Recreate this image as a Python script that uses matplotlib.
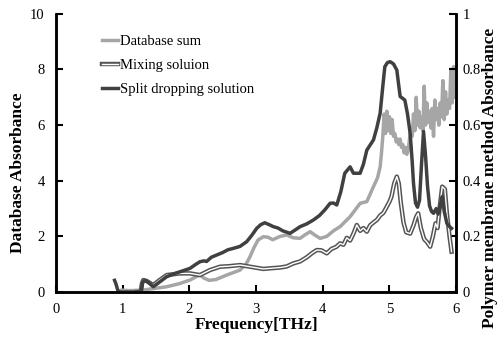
import matplotlib.pyplot as plt
import matplotlib.patheffects as pe

plt.rcParams['font.family'] = ['Liberation Serif', 'DejaVu Serif']

# Database sum (left axis)
db_f = [0.95, 0.98, 1.10, 1.31, 1.45, 1.66, 1.85, 2.01, 2.10, 2.16, 2.22, 2.30,
        2.40, 2.50, 2.56, 2.66, 2.76, 2.85, 2.91, 2.97, 3.03, 3.11, 3.18, 3.25,
        3.36, 3.46, 3.56, 3.66, 3.73, 3.81, 3.88, 3.96, 4.06, 4.16, 4.26, 4.41,
        4.56, 4.66, 4.76, 4.82, 4.86, 4.88, 4.90, 4.92, 4.94, 4.96, 4.98, 5.00,
        5.02, 5.04, 5.06, 5.08, 5.10, 5.12, 5.14, 5.16, 5.18, 5.20, 5.22, 5.24,
        5.26, 5.28, 5.30, 5.32, 5.34, 5.36, 5.38, 5.40, 5.42, 5.44, 5.46, 5.48,
        5.50, 5.52, 5.54, 5.56, 5.58, 5.60, 5.62, 5.64, 5.66, 5.68, 5.70, 5.72,
        5.74, 5.76, 5.78, 5.80, 5.82, 5.84, 5.86, 5.88, 5.90, 5.92, 5.94, 5.96,
        5.98, 6.00]
db_v = [0.00, 0.07, 0.05, 0.07, 0.12, 0.19, 0.30, 0.43, 0.55, 0.61, 0.50, 0.42,
        0.45, 0.55, 0.61, 0.70, 0.79, 1.00, 1.27, 1.60, 1.87, 1.99, 1.97, 1.88,
        2.00, 2.05, 1.95, 1.93, 2.05, 2.17, 2.05, 1.93, 2.00, 2.20, 2.35, 2.71,
        3.19, 3.25, 3.79, 4.10, 4.50, 5.00, 5.60, 6.40, 5.70, 6.50, 5.80, 6.30,
        5.70, 6.20, 5.60, 5.70, 5.40, 5.50, 5.30, 5.50, 5.20, 5.30, 5.00, 5.20,
        4.95, 5.10, 5.50, 5.90, 5.60, 6.40, 5.80, 7.00, 6.00, 6.50, 5.90, 6.30,
        5.80, 7.40, 6.00, 6.80, 6.10, 6.50, 5.90, 6.60, 5.60, 6.90, 6.20, 6.60,
        6.00, 6.80, 6.30, 7.60, 6.20, 7.20, 6.40, 6.90, 6.60, 8.00, 6.80, 8.10,
        7.00, 7.50]

# Mixing solution (right axis)
mix_f = [1.22, 1.27, 1.29, 1.31, 1.36, 1.46, 1.55, 1.66, 1.76, 1.86, 2.01, 2.16,
         2.31, 2.46, 2.60, 2.76, 2.91, 3.01, 3.11, 3.20, 3.36, 3.46, 3.56, 3.66,
         3.76, 3.84, 3.91, 3.98, 4.06, 4.13, 4.20, 4.26, 4.31, 4.36, 4.41, 4.46,
         4.51, 4.56, 4.61, 4.66, 4.71, 4.76, 4.81, 4.86, 4.91, 4.96, 5.00, 5.03,
         5.07, 5.11, 5.14, 5.17, 5.21, 5.25, 5.31, 5.36, 5.40, 5.43, 5.47, 5.52,
         5.56, 5.61, 5.65, 5.69, 5.72, 5.75, 5.79, 5.83, 5.86, 5.90, 5.93]
mix_v = [0.000, 0.000, 0.030, 0.043, 0.040, 0.025, 0.042, 0.061, 0.064, 0.067,
         0.067, 0.061, 0.079, 0.091, 0.093, 0.097, 0.091, 0.087, 0.083, 0.085,
         0.088, 0.092, 0.103, 0.110, 0.125, 0.140, 0.151, 0.150, 0.139, 0.155,
         0.162, 0.175, 0.170, 0.195, 0.185, 0.210, 0.241, 0.220, 0.230, 0.217,
         0.240, 0.250, 0.259, 0.275, 0.285, 0.307, 0.325, 0.343, 0.390, 0.415,
         0.390, 0.320, 0.250, 0.215, 0.210, 0.240, 0.270, 0.283, 0.230, 0.190,
         0.180, 0.163, 0.200, 0.247, 0.230, 0.300, 0.379, 0.370, 0.283, 0.200,
         0.145]

# Split dropping solution (right axis)
spl_f = [0.88, 0.90, 0.93, 0.96, 1.28, 1.30, 1.33, 1.38, 1.46, 1.55, 1.66, 1.80,
         1.90, 2.01, 2.10, 2.16, 2.22, 2.26, 2.33, 2.41, 2.50, 2.58, 2.66, 2.76,
         2.86, 2.94, 3.01, 3.07, 3.13, 3.20, 3.26, 3.33, 3.40, 3.51, 3.58, 3.66,
         3.76, 3.86, 3.95, 4.03, 4.11, 4.16, 4.21, 4.27, 4.33, 4.41, 4.46, 4.56,
         4.61, 4.66, 4.76, 4.81, 4.86, 4.90, 4.93, 4.97, 5.01, 5.06, 5.11, 5.14,
         5.16, 5.23, 5.27, 5.31, 5.34, 5.36, 5.39, 5.42, 5.45, 5.48, 5.51, 5.54,
         5.57, 5.60, 5.63, 5.66, 5.70, 5.73, 5.76, 5.79, 5.82, 5.86, 5.90, 5.93]
spl_v = [0.042, 0.030, 0.005, 0.000, 0.000, 0.035, 0.042, 0.036, 0.019, 0.035,
         0.055, 0.068, 0.076, 0.085, 0.100, 0.109, 0.112, 0.110, 0.125, 0.133,
         0.142, 0.152, 0.157, 0.164, 0.181, 0.205, 0.229, 0.242, 0.249, 0.242,
         0.235, 0.230, 0.220, 0.211, 0.222, 0.235, 0.245, 0.259, 0.275, 0.295,
         0.319, 0.320, 0.313, 0.360, 0.427, 0.450, 0.427, 0.427, 0.460, 0.510,
         0.547, 0.590, 0.643, 0.740, 0.810, 0.825, 0.828, 0.820, 0.798, 0.740,
         0.703, 0.690, 0.640, 0.570, 0.470, 0.390, 0.320, 0.305, 0.330, 0.460,
         0.577, 0.490, 0.380, 0.310, 0.290, 0.283, 0.300, 0.280, 0.310, 0.343,
         0.290, 0.247, 0.235, 0.229]

fig = plt.figure(figsize=(5.03, 3.38), dpi=100)
ax = fig.add_axes([0.111, 0.136, 0.796, 0.823])
ax2 = ax.twinx()

l1, = ax.plot(db_f, db_v, color='#a6a6a6', lw=2.5, label='Database sum')
l2, = ax2.plot(mix_f, mix_v, color='white', lw=1.0, label='Mixing soluion',
               path_effects=[pe.Stroke(linewidth=3.2, foreground='#555555'), pe.Normal()])
l3, = ax2.plot(spl_f, spl_v, color='#404040', lw=2.5, label='Split dropping solution')

ax.set_xlim(0, 6)
ax.set_ylim(0, 10)
ax2.set_ylim(0, 1)
ax.set_xticks(range(0, 7))
ax.set_yticks(range(0, 11, 2))
ax2.set_yticks([0, 0.2, 0.4, 0.6, 0.8, 1])
ax2.set_yticklabels(['0', '0.2', '0.4', '0.6', '0.8', '1'])

for a in (ax, ax2):
    a.spines['top'].set_visible(False)
    for s in ('left', 'right', 'bottom'):
        a.spines[s].set_linewidth(1.8)
    a.tick_params(direction='in', length=5, width=1.5, labelsize=10.5, colors='black')
ax.tick_params(axis='y', pad=8)
ax2.tick_params(axis='y', pad=4.5)
ax.tick_params(axis='x', pad=8)

fig.text(0.036, 0.49, 'Database Absorbance', rotation=90, ha='center', va='center',
         fontsize=12.5, fontweight='bold')
fig.text(0.974, 0.473, 'Polymer membrane method Absorbance', rotation=90, ha='center',
         va='center', fontsize=12.5, fontweight='bold')
fig.text(0.509, 0.038, 'Frequency[THz]', ha='center', va='center', fontsize=12.5,
         fontweight='bold')

ax.legend(handles=[l1, l2, l3], loc='upper left', bbox_to_anchor=(0.115, 0.925),
          frameon=False, fontsize=10.5, handlelength=1.1, handletextpad=0.15,
          labelspacing=0.75, borderpad=0, borderaxespad=0)

plt.savefig('out.png')
